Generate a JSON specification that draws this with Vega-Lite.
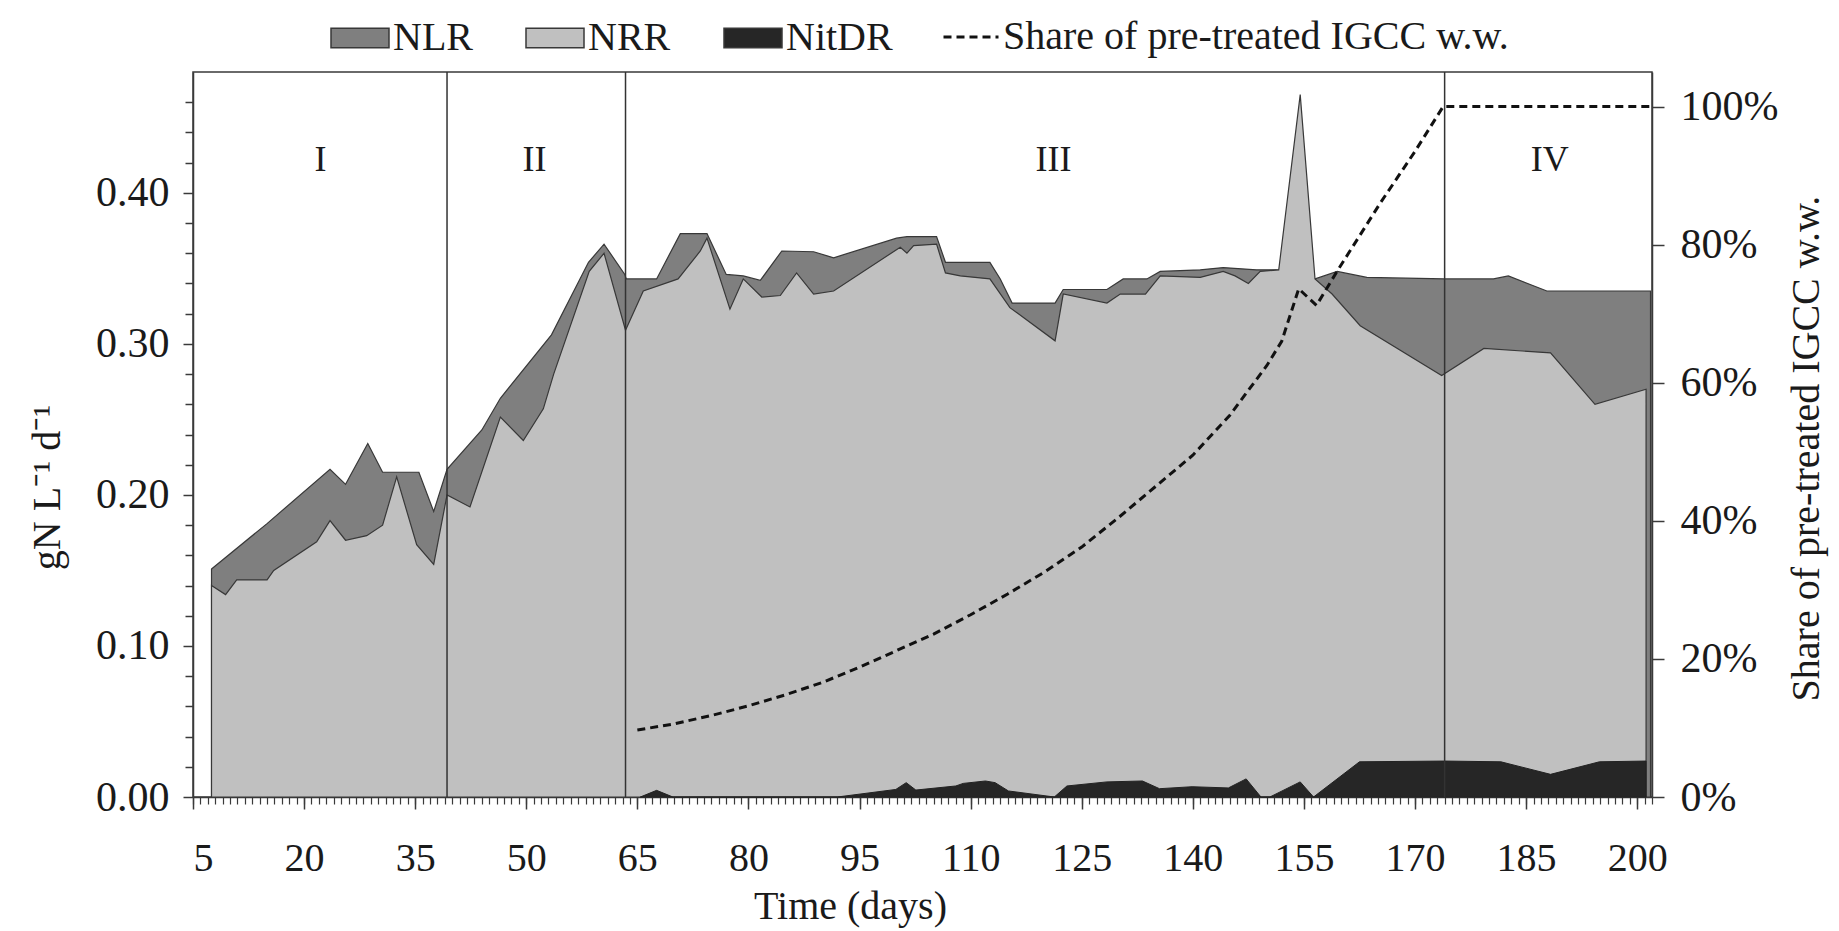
{
  "$schema": "https://vega.github.io/schema/vega-lite/v6.json",
  "width": 1459,
  "height": 725,
  "autosize": {"type": "none"},
  "padding": {"left": 193, "top": 72, "right": 187, "bottom": 134},
  "background": "white",
  "config": {
    "view": {"stroke": "#3a3a3a", "strokeWidth": 1.5},
    "font": "Liberation Serif",
    "axis": {"labelFont": "Liberation Serif", "titleFont": "Liberation Serif", "labelFontSize": 40, "titleFontSize": 40, "labelColor": "#1a1a1a", "titleColor": "#1a1a1a", "titleFontWeight": "normal", "domainColor": "#3a3a3a", "tickColor": "#3a3a3a", "grid": false, "domainWidth": 1.5, "tickWidth": 1.5},
    "legend": {"labelFont": "Liberation Serif", "labelFontSize": 40, "labelColor": "#1a1a1a", "labelLimit": 1000}
  },
  "datasets": {
    "rates": [
      {"series": "NLR", "day": 7.5, "value": 0.151},
      {"series": "NLR", "day": 15.0, "value": 0.181},
      {"series": "NLR", "day": 23.5, "value": 0.217},
      {"series": "NLR", "day": 25.6, "value": 0.207},
      {"series": "NLR", "day": 28.6, "value": 0.234},
      {"series": "NLR", "day": 30.6, "value": 0.215},
      {"series": "NLR", "day": 35.5, "value": 0.215},
      {"series": "NLR", "day": 37.5, "value": 0.189},
      {"series": "NLR", "day": 39.3, "value": 0.217},
      {"series": "NLR", "day": 44.0, "value": 0.243},
      {"series": "NLR", "day": 46.5, "value": 0.264},
      {"series": "NLR", "day": 53.4, "value": 0.306},
      {"series": "NLR", "day": 58.4, "value": 0.354},
      {"series": "NLR", "day": 60.5, "value": 0.366},
      {"series": "NLR", "day": 63.3, "value": 0.346},
      {"series": "NLR", "day": 63.5, "value": 0.343},
      {"series": "NLR", "day": 67.6, "value": 0.343},
      {"series": "NLR", "day": 70.8, "value": 0.373},
      {"series": "NLR", "day": 74.4, "value": 0.373},
      {"series": "NLR", "day": 77.0, "value": 0.346},
      {"series": "NLR", "day": 79.3, "value": 0.345},
      {"series": "NLR", "day": 81.6, "value": 0.342},
      {"series": "NLR", "day": 84.5, "value": 0.3615},
      {"series": "NLR", "day": 88.8, "value": 0.361},
      {"series": "NLR", "day": 91.5, "value": 0.357},
      {"series": "NLR", "day": 100.0, "value": 0.37},
      {"series": "NLR", "day": 101.4, "value": 0.371},
      {"series": "NLR", "day": 105.4, "value": 0.371},
      {"series": "NLR", "day": 106.6, "value": 0.354},
      {"series": "NLR", "day": 112.6, "value": 0.354},
      {"series": "NLR", "day": 114.0, "value": 0.343},
      {"series": "NLR", "day": 115.6, "value": 0.327},
      {"series": "NLR", "day": 121.4, "value": 0.327},
      {"series": "NLR", "day": 122.5, "value": 0.336},
      {"series": "NLR", "day": 128.4, "value": 0.336},
      {"series": "NLR", "day": 130.6, "value": 0.343},
      {"series": "NLR", "day": 133.8, "value": 0.343},
      {"series": "NLR", "day": 135.6, "value": 0.348},
      {"series": "NLR", "day": 141.0, "value": 0.349},
      {"series": "NLR", "day": 144.1, "value": 0.3505},
      {"series": "NLR", "day": 148.6, "value": 0.349},
      {"series": "NLR", "day": 151.6, "value": 0.349},
      {"series": "NLR", "day": 156.5, "value": 0.343},
      {"series": "NLR", "day": 159.5, "value": 0.348},
      {"series": "NLR", "day": 163.5, "value": 0.344},
      {"series": "NLR", "day": 174.0, "value": 0.343},
      {"series": "NLR", "day": 180.6, "value": 0.343},
      {"series": "NLR", "day": 182.6, "value": 0.345},
      {"series": "NLR", "day": 187.8, "value": 0.335},
      {"series": "NLR", "day": 201.8, "value": 0.335},
      {"series": "NRR", "day": 7.5, "value": 0.14},
      {"series": "NRR", "day": 9.4, "value": 0.134},
      {"series": "NRR", "day": 10.9, "value": 0.1437},
      {"series": "NRR", "day": 15.0, "value": 0.1437},
      {"series": "NRR", "day": 15.9, "value": 0.15},
      {"series": "NRR", "day": 21.7, "value": 0.169},
      {"series": "NRR", "day": 23.5, "value": 0.183},
      {"series": "NRR", "day": 25.6, "value": 0.17},
      {"series": "NRR", "day": 28.45, "value": 0.173},
      {"series": "NRR", "day": 30.6, "value": 0.18},
      {"series": "NRR", "day": 32.5, "value": 0.212},
      {"series": "NRR", "day": 35.2, "value": 0.167},
      {"series": "NRR", "day": 37.5, "value": 0.154},
      {"series": "NRR", "day": 39.3, "value": 0.2},
      {"series": "NRR", "day": 42.4, "value": 0.192},
      {"series": "NRR", "day": 46.5, "value": 0.2515},
      {"series": "NRR", "day": 49.6, "value": 0.236},
      {"series": "NRR", "day": 52.3, "value": 0.257},
      {"series": "NRR", "day": 53.7, "value": 0.28},
      {"series": "NRR", "day": 58.5, "value": 0.348},
      {"series": "NRR", "day": 60.5, "value": 0.36},
      {"series": "NRR", "day": 63.4, "value": 0.309},
      {"series": "NRR", "day": 65.8, "value": 0.335},
      {"series": "NRR", "day": 70.5, "value": 0.343},
      {"series": "NRR", "day": 73.5, "value": 0.3615},
      {"series": "NRR", "day": 74.4, "value": 0.37},
      {"series": "NRR", "day": 77.5, "value": 0.323},
      {"series": "NRR", "day": 79.3, "value": 0.343},
      {"series": "NRR", "day": 81.8, "value": 0.331},
      {"series": "NRR", "day": 84.3, "value": 0.332},
      {"series": "NRR", "day": 86.5, "value": 0.347},
      {"series": "NRR", "day": 88.8, "value": 0.333},
      {"series": "NRR", "day": 91.5, "value": 0.335},
      {"series": "NRR", "day": 100.5, "value": 0.364},
      {"series": "NRR", "day": 101.4, "value": 0.36},
      {"series": "NRR", "day": 102.3, "value": 0.365},
      {"series": "NRR", "day": 105.4, "value": 0.366},
      {"series": "NRR", "day": 106.6, "value": 0.347},
      {"series": "NRR", "day": 108.6, "value": 0.345},
      {"series": "NRR", "day": 112.6, "value": 0.343},
      {"series": "NRR", "day": 115.3, "value": 0.324},
      {"series": "NRR", "day": 121.4, "value": 0.302},
      {"series": "NRR", "day": 122.5, "value": 0.333},
      {"series": "NRR", "day": 128.4, "value": 0.327},
      {"series": "NRR", "day": 130.2, "value": 0.333},
      {"series": "NRR", "day": 133.6, "value": 0.333},
      {"series": "NRR", "day": 135.6, "value": 0.345},
      {"series": "NRR", "day": 141.0, "value": 0.344},
      {"series": "NRR", "day": 144.1, "value": 0.348},
      {"series": "NRR", "day": 145.7, "value": 0.345},
      {"series": "NRR", "day": 147.5, "value": 0.34},
      {"series": "NRR", "day": 149.1, "value": 0.348},
      {"series": "NRR", "day": 151.6, "value": 0.349},
      {"series": "NRR", "day": 154.5, "value": 0.465},
      {"series": "NRR", "day": 156.5, "value": 0.343},
      {"series": "NRR", "day": 158.8, "value": 0.333},
      {"series": "NRR", "day": 162.6, "value": 0.312},
      {"series": "NRR", "day": 173.6, "value": 0.279},
      {"series": "NRR", "day": 179.3, "value": 0.297},
      {"series": "NRR", "day": 188.3, "value": 0.294},
      {"series": "NRR", "day": 194.3, "value": 0.26},
      {"series": "NRR", "day": 201.2, "value": 0.27},
      {"series": "NitDR", "day": 65.4, "value": 0},
      {"series": "NitDR", "day": 67.6, "value": 0.0044},
      {"series": "NitDR", "day": 69.8, "value": 0},
      {"series": "NitDR", "day": 92.0, "value": 0},
      {"series": "NitDR", "day": 99.9, "value": 0.005},
      {"series": "NitDR", "day": 101.3, "value": 0.0095},
      {"series": "NitDR", "day": 102.6, "value": 0.0046},
      {"series": "NitDR", "day": 108.0, "value": 0.0073},
      {"series": "NitDR", "day": 109.0, "value": 0.009},
      {"series": "NitDR", "day": 112.0, "value": 0.0106},
      {"series": "NitDR", "day": 113.3, "value": 0.0095},
      {"series": "NitDR", "day": 115.1, "value": 0.004},
      {"series": "NitDR", "day": 121.3, "value": 0},
      {"series": "NitDR", "day": 123.0, "value": 0.0073},
      {"series": "NitDR", "day": 128.4, "value": 0.01},
      {"series": "NitDR", "day": 133.2, "value": 0.0106},
      {"series": "NitDR", "day": 135.5, "value": 0.0055},
      {"series": "NitDR", "day": 139.9, "value": 0.0068},
      {"series": "NitDR", "day": 144.8, "value": 0.006},
      {"series": "NitDR", "day": 147.2, "value": 0.012},
      {"series": "NitDR", "day": 149.2, "value": 0},
      {"series": "NitDR", "day": 150.4, "value": 0},
      {"series": "NitDR", "day": 154.5, "value": 0.01},
      {"series": "NitDR", "day": 156.3, "value": 0},
      {"series": "NitDR", "day": 162.5, "value": 0.0233},
      {"series": "NitDR", "day": 174.0, "value": 0.0238},
      {"series": "NitDR", "day": 181.6, "value": 0.0233},
      {"series": "NitDR", "day": 188.3, "value": 0.015},
      {"series": "NitDR", "day": 194.9, "value": 0.0233},
      {"series": "NitDR", "day": 201.2, "value": 0.0238}
    ],
    "share": [
      {"series": "Share of pre-treated IGCC w.w.", "day": 65, "share": 0.097},
      {"series": "Share of pre-treated IGCC w.w.", "day": 70, "share": 0.106},
      {"series": "Share of pre-treated IGCC w.w.", "day": 75, "share": 0.118},
      {"series": "Share of pre-treated IGCC w.w.", "day": 80, "share": 0.132},
      {"series": "Share of pre-treated IGCC w.w.", "day": 85, "share": 0.148},
      {"series": "Share of pre-treated IGCC w.w.", "day": 90, "share": 0.166},
      {"series": "Share of pre-treated IGCC w.w.", "day": 95, "share": 0.188},
      {"series": "Share of pre-treated IGCC w.w.", "day": 100, "share": 0.212},
      {"series": "Share of pre-treated IGCC w.w.", "day": 105, "share": 0.236},
      {"series": "Share of pre-treated IGCC w.w.", "day": 110, "share": 0.264},
      {"series": "Share of pre-treated IGCC w.w.", "day": 115, "share": 0.294},
      {"series": "Share of pre-treated IGCC w.w.", "day": 120, "share": 0.326},
      {"series": "Share of pre-treated IGCC w.w.", "day": 125, "share": 0.362},
      {"series": "Share of pre-treated IGCC w.w.", "day": 130, "share": 0.405},
      {"series": "Share of pre-treated IGCC w.w.", "day": 135, "share": 0.45},
      {"series": "Share of pre-treated IGCC w.w.", "day": 140, "share": 0.495},
      {"series": "Share of pre-treated IGCC w.w.", "day": 145, "share": 0.553},
      {"series": "Share of pre-treated IGCC w.w.", "day": 150, "share": 0.625},
      {"series": "Share of pre-treated IGCC w.w.", "day": 152, "share": 0.66},
      {"series": "Share of pre-treated IGCC w.w.", "day": 154.3, "share": 0.736},
      {"series": "Share of pre-treated IGCC w.w.", "day": 156.7, "share": 0.712},
      {"series": "Share of pre-treated IGCC w.w.", "day": 159.4, "share": 0.76},
      {"series": "Share of pre-treated IGCC w.w.", "day": 165.3, "share": 0.86},
      {"series": "Share of pre-treated IGCC w.w.", "day": 170, "share": 0.935},
      {"series": "Share of pre-treated IGCC w.w.", "day": 173.8, "share": 1.0},
      {"series": "Share of pre-treated IGCC w.w.", "day": 202, "share": 1.0}
    ],
    "phases": [
      {"day": 39.3, "label": "I", "labelDay": 22.2, "labelY": 0.422},
      {"day": 63.4, "label": "II", "labelDay": 51.1, "labelY": 0.422},
      {"day": 174.0, "label": "III", "labelDay": 121.2, "labelY": 0.422},
      {"day": null, "label": "IV", "labelDay": 188.2, "labelY": 0.422}
    ]
  },
  "layer": [
    {
      "data": {"name": "rates"},
      "transform": [{"filter": "datum.series === 'NLR'"}],
      "mark": {"type": "area", "stroke": "#383838", "strokeWidth": 1.2},
      "encoding": {
        "x": {"field": "day", "type": "quantitative", "scale": {"domain": [5, 202], "nice": false, "zero": false},
          "axis": {"orient": "bottom", "values": [5, 20, 35, 50, 65, 80, 95, 110, 125, 140, 155, 170, 185, 200], "format": "d", "tickSize": 12, "labelPadding": 29, "title": "Time (days)", "titleX": 657, "titleY": 109, "titleBaseline": "middle"}},
        "y": {"field": "value", "type": "quantitative", "stack": null, "scale": {"domain": [0, 0.48], "nice": false},
          "axis": {"orient": "left", "values": [0, 0.1, 0.2, 0.3, 0.4], "format": ".2f", "tickSize": 10, "labelPadding": 14, "labelFontSize": 42, "title": "gN L⁻¹ d⁻¹", "titleX": -146, "titleY": 415, "titleBaseline": "middle"}},
        "fill": {"field": "series", "type": "nominal",
          "scale": {"domain": ["NLR", "NRR", "NitDR"], "range": ["#7f7f7f", "#c0c0c0", "#262626"]},
          "legend": {"orient": "none", "legendX": 137, "legendY": -64, "direction": "horizontal", "title": null, "symbolType": "M-1,-0.34H1V0.34H-1Z", "symbolSize": 3364, "symbolStrokeColor": "#333333", "symbolStrokeWidth": 1.5, "labelOffset": 3, "columnPadding": 50}}
      }
    },
    {
      "data": {"name": "rates"},
      "transform": [{"filter": "datum.series === 'NRR'"}],
      "mark": {"type": "area", "stroke": "#383838", "strokeWidth": 1.2},
      "encoding": {
        "x": {"field": "day", "type": "quantitative", "scale": {"domain": [5, 202], "nice": false, "zero": false},
          "axis": {"orient": "bottom", "values": [5,6,7,8,9,10,11,12,13,14,15,16,17,18,19,20,21,22,23,24,25,26,27,28,29,30,31,32,33,34,35,36,37,38,39,40,41,42,43,44,45,46,47,48,49,50,51,52,53,54,55,56,57,58,59,60,61,62,63,64,65,66,67,68,69,70,71,72,73,74,75,76,77,78,79,80,81,82,83,84,85,86,87,88,89,90,91,92,93,94,95,96,97,98,99,100,101,102,103,104,105,106,107,108,109,110,111,112,113,114,115,116,117,118,119,120,121,122,123,124,125,126,127,128,129,130,131,132,133,134,135,136,137,138,139,140,141,142,143,144,145,146,147,148,149,150,151,152,153,154,155,156,157,158,159,160,161,162,163,164,165,166,167,168,169,170,171,172,173,174,175,176,177,178,179,180,181,182,183,184,185,186,187,188,189,190,191,192,193,194,195,196,197,198,199,200,201,202], "tickSize": 7, "labels": false, "domain": false, "title": null, "tickWidth": 1.2}},
        "y": {"field": "value", "type": "quantitative", "stack": null, "scale": {"domain": [0, 0.48], "nice": false},
          "axis": {"orient": "left", "values": [0.02, 0.04, 0.06, 0.08, 0.12, 0.14, 0.16, 0.18, 0.22, 0.24, 0.26, 0.28, 0.32, 0.34, 0.36, 0.38, 0.42, 0.44, 0.46], "tickSize": 8, "labels": false, "domain": false, "title": null}},
        "fill": {"field": "series", "type": "nominal", "scale": {"domain": ["NLR", "NRR", "NitDR"], "range": ["#7f7f7f", "#c0c0c0", "#262626"]}}
      }
    },
    {
      "data": {"name": "rates"},
      "transform": [{"filter": "datum.series === 'NitDR'"}],
      "mark": {"type": "area", "stroke": "#222222", "strokeWidth": 1},
      "encoding": {
        "x": {"field": "day", "type": "quantitative", "scale": {"domain": [5, 202], "nice": false, "zero": false}, "axis": null},
        "y": {"field": "value", "type": "quantitative", "stack": null, "scale": {"domain": [0, 0.48], "nice": false}, "axis": null},
        "fill": {"field": "series", "type": "nominal", "scale": {"domain": ["NLR", "NRR", "NitDR"], "range": ["#7f7f7f", "#c0c0c0", "#262626"]}}
      }
    },
    {
      "data": {"name": "phases"},
      "transform": [{"filter": "datum.day != null"}],
      "mark": {"type": "rule", "color": "#333333", "strokeWidth": 1.5},
      "encoding": {
        "x": {"field": "day", "type": "quantitative", "scale": {"domain": [5, 202], "nice": false, "zero": false}, "axis": null}
      }
    },
    {
      "data": {"name": "share"},
      "mark": {"type": "line", "color": "#111111", "strokeWidth": 3},
      "encoding": {
        "x": {"field": "day", "type": "quantitative", "scale": {"domain": [5, 202], "nice": false, "zero": false}, "axis": null},
        "y": {"field": "share", "type": "quantitative", "scale": {"domain": [0, 1.05], "nice": false},
          "axis": {"orient": "right", "values": [0, 0.2, 0.4, 0.6, 0.8, 1.0], "format": ".0%", "tickSize": 12, "labelPadding": 16, "labelFontSize": 42, "title": "Share of pre-treated IGCC w.w.", "titleAngle": 270, "titleX": 154, "titleY": 376, "titleBaseline": "middle"}},
        "strokeDash": {"field": "series", "type": "nominal", "scale": {"range": [[8, 5]]},
          "legend": {"orient": "none", "legendX": 749, "legendY": -64, "title": null, "symbolType": "stroke", "symbolSize": 3025, "symbolStrokeWidth": 3, "symbolStrokeColor": "#111111", "labelOffset": 3}}
      }
    },
    {
      "data": {"name": "phases"},
      "mark": {"type": "text", "font": "Liberation Serif", "fontSize": 36, "color": "#1a1a1a", "align": "center", "baseline": "middle"},
      "encoding": {
        "x": {"field": "labelDay", "type": "quantitative", "scale": {"domain": [5, 202], "nice": false, "zero": false}, "axis": null},
        "y": {"field": "labelY", "type": "quantitative", "scale": {"domain": [0, 0.48], "nice": false}, "axis": null},
        "text": {"field": "label"}
      }
    }
  ],
  "resolve": {"scale": {"x": "independent", "y": "independent"}, "axis": {"x": "independent", "y": "independent"}}
}
